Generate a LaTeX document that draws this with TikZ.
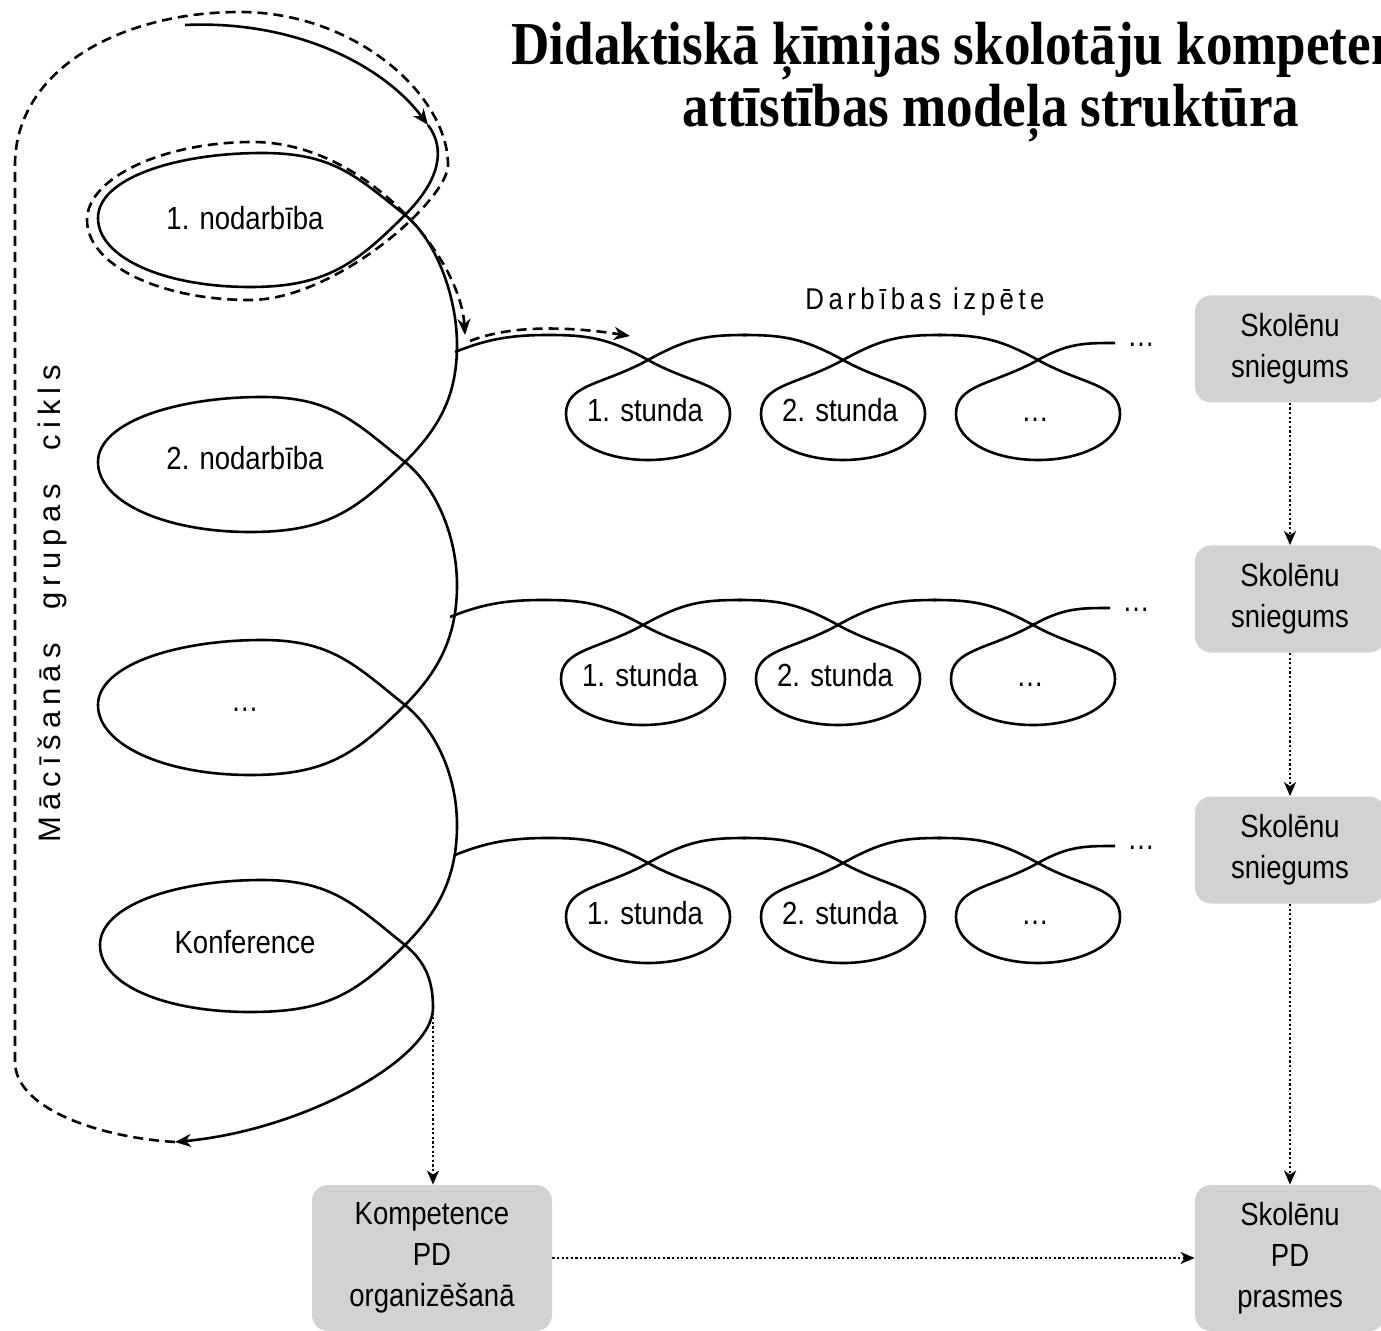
\documentclass[tikz,border=0pt]{standalone}
\usepackage{fontspec}
\setmainfont[FakeStretch=0.86]{Liberation Sans}
\newfontfamily\titlefont[FakeStretch=0.87]{Liberation Serif}
\newfontfamily\spacedfont[FakeStretch=0.86,LetterSpace=15]{Liberation Sans}
\newfontfamily\cyclefont[LetterSpace=20]{Liberation Sans}
\usetikzlibrary{arrows.meta}
\definecolor{boxgray}{HTML}{D1D2D4}
\tikzset{
  lbl/.style={font=\fontsize{16}{19}\selectfont, inner sep=0pt, text height=11.5pt, text depth=0pt},
  ttl/.style={font=\titlefont\bfseries\fontsize{30.5}{31}\selectfont, anchor=base},
  gbox/.style={fill=boxgray, rounded corners=8pt, inner sep=0pt, align=center, font=\fontsize{16}{20.5}\selectfont},
  coil/.style={line width=1.3pt},
  dashline/.style={line width=1.3pt, dash pattern=on 5pt off 3pt},
  dotline/.style={line width=1.1pt, dash pattern=on 1.1pt off 1.2pt},
  headarrow/.style={-{Stealth[length=8pt,width=6.5pt,inset=2.5pt]}},
  smallhead/.style={-{Stealth[length=7pt,width=6pt,inset=2pt]}},
}
\begin{document}
\begin{tikzpicture}[x=0.5pt,y=-0.5pt]
\clip (0,0) rectangle (1381,1331);
% title
\node[ttl] (title1) at (990,65) {Didaktiskā ķīmijas skolotāju kompetences};
\node[ttl] (title2) at (991,127) {attīstības modeļa struktūra};
% left cycle
\coordinate (a0) at (185,25);
\coordinate (a1) at (428,125);
\coordinate (k1) at (405,215);
\coordinate (k2) at (405,462);
\coordinate (k3) at (405,705);
\coordinate (k4) at (405,945);
\coordinate (r1) at (457,345);
\coordinate (r2) at (457,585);
\coordinate (r3) at (457,825);
\coordinate (r4) at (433,1008);
\coordinate (e) at (175,1142);
\draw[coil, headarrow] (a0) .. controls +(110,-5) and +(-45,-60) .. (a1);
\draw[coil] (a1) .. controls +(18,24) and +(35,-35) .. (k1)
  .. controls +(-50,50) and +(75,0) .. (250,287) .. controls +(-85,0) and +(0,40) .. (98,218)
  .. controls +(0,-40) and +(-85,0) .. (262,153) .. controls +(70,0) and +(-50,-40) .. (k1)
  .. controls +(30,24) and +(0,-50) .. (r1) .. controls +(0,50) and +(35,-35) .. (k2)
  .. controls +(-50,50) and +(75,0) .. (250,532) .. controls +(-85,0) and +(0,40) .. (98,462)
  .. controls +(0,-40) and +(-85,0) .. (262,397) .. controls +(70,0) and +(-50,-40) .. (k2)
  .. controls +(30,24) and +(0,-50) .. (r2) .. controls +(0,50) and +(35,-35) .. (k3)
  .. controls +(-50,50) and +(75,0) .. (250,775) .. controls +(-85,0) and +(0,40) .. (98,705)
  .. controls +(0,-40) and +(-85,0) .. (262,640) .. controls +(70,0) and +(-50,-40) .. (k3)
  .. controls +(30,24) and +(0,-50) .. (r3) .. controls +(0,50) and +(35,-35) .. (k4)
  .. controls +(-50,50) and +(75,0) .. (250,1012) .. controls +(-85,0) and +(0,40) .. (100,945)
  .. controls +(0,-40) and +(-85,0) .. (262,880) .. controls +(70,0) and +(-50,-40) .. (k4)
  .. controls +(22,18) and +(0,-25) .. (r4);
\draw[coil, headarrow] (r4) .. controls +(0,50) and +(130,-12) .. (e);
% dashed return
\coordinate (dtip) at (465,335);
\draw[dashline, headarrow] (e) .. controls +(-80,-5) and +(0,45) .. (15,1062) -- (15,165)
  .. controls +(0,-95) and +(-120,0) .. (240,12) .. controls +(115,0) and +(0,-70) .. (448,165)
  .. controls +(0,35) and +(85,0) .. (250,300) .. controls +(-90,0) and +(0,45) .. (87,220)
  .. controls +(0,-42) and +(-90,0) .. (253,142) .. controls +(110,0) and +(-5,-80) .. (dtip);
\coordinate (dstart) at (470,341);
\coordinate (dend) at (630,336);
\draw[dashline, headarrow] (dstart) .. controls +(45,-18) and +(-50,-8) .. (dend);
\node[lbl] (nod1) at (245,218) {1. nodarbība};
\node[lbl] (nod2) at (245,458) {2. nodarbība};
\node[lbl] (nod3) at (245,700) {…};
\node[lbl] (konf) at (245,942) {Konference};
\node[font=\cyclefont\fontsize{15.5}{18}\selectfont, rotate=90] (cikls) at (52,604) {Mācīšanās\hspace{0.6em} grupas\hspace{0.6em} cikls};
\node[font=\spacedfont\fontsize{15}{18}\selectfont] (izpete) at (925,302) {Darbības izpēte};
% lesson chains
\foreach \s/\sx/\sy in {1/455/352,2/450/617,3/455/855}{
\begin{scope}[shift={(\sx,\sy)}]
\coordinate (ch\s) at (0,0);
\draw[coil] (ch\s) .. controls +(30,-12) and +(-40,0) .. (93,-17);
\foreach \n/\c/\txt in {1/193/1. stunda,2/388/2. stunda,3/583/…}{
\draw[coil] (\c-100,-17) .. controls +(40,0) and +(-40,-22) .. (\c,8)
  .. controls +(45,25) and +(0,-30) .. (\c+82,62) .. controls +(0,27) and +(45,0) .. (\c,108)
  .. controls +(-45,0) and +(0,27) .. (\c-82,62) .. controls +(0,-30) and +(-45,25) .. (\c,8);
\node[lbl] (st\s\n) at (\c-3,58) {\txt};
}
\draw[coil] (193,8) .. controls +(40,-22) and +(-40,0) .. (291,-17);
\draw[coil] (388,8) .. controls +(40,-22) and +(-40,0) .. (486,-17);
\draw[coil] (583,8) .. controls +(30,-17) and +(-30,0) .. (660,-9);
\node[lbl, anchor=west] (more\s) at (672,-17) {…};
\end{scope}
}
% result boxes
\node[gbox, minimum width=95pt, minimum height=53.5pt] (skn1) at (1290,349) {Skolēnu\\sniegums};
\node[gbox, minimum width=95pt, minimum height=53.5pt] (skn2) at (1290,599) {Skolēnu\\sniegums};
\node[gbox, minimum width=95pt, minimum height=53.5pt] (skn3) at (1290,850) {Skolēnu\\sniegums};
\node[gbox, minimum width=95pt, minimum height=73pt] (skpd) at (1290,1258) {Skolēnu\\PD\\prasmes};
\node[gbox, minimum width=120pt, minimum height=73pt] (kpd) at (432,1258) {Kompetence\\PD\\organizēšanā};
\draw[dotline, smallhead](skn1) -- (skn2);
\draw[dotline, smallhead](skn2) -- (skn3);
\draw[dotline, smallhead](skn3) -- (skpd);
\draw[dotline, smallhead](kpd) -- (skpd);
\draw[dotline, smallhead](r4) -- (r4 |- kpd.north);
\end{tikzpicture}
\end{document}
